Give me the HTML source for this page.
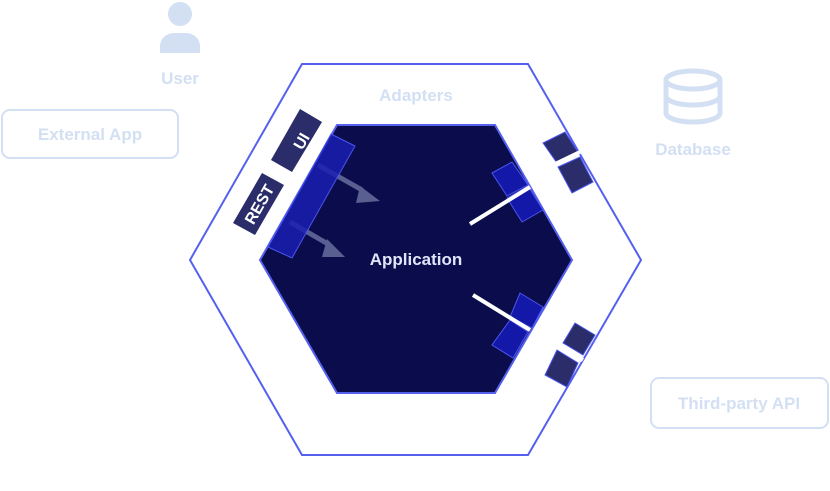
<!DOCTYPE html><html><head><style>body{margin:0;background:#fff;width:830px;height:486px;overflow:hidden}</style></head><body>
<svg width="830" height="486" viewBox="0 0 830 486" xmlns="http://www.w3.org/2000/svg" font-family="Liberation Sans, sans-serif" font-weight="bold">
<g fill="#d3e0f3">
<circle cx="180" cy="14" r="12"/>
<path d="M160 53 V46 a14 13 0 0 1 14 -13 h12 a14 13 0 0 1 14 13 V53 Z"/>
</g>
<g fill="none" stroke="#d3e0f3" stroke-width="5">
<ellipse cx="693" cy="80" rx="27" ry="9"/>
<path d="M666 80 V113 a27 9 0 0 0 54 0 V80"/>
<path d="M666 96 a27 9 0 0 0 54 0"/>
</g>
<text x="180" y="84" text-anchor="middle" font-size="17" fill="#d3e0f3">User</text>
<text x="693" y="155" text-anchor="middle" font-size="17" fill="#d3e0f3">Database</text>
<rect x="2" y="110" width="176" height="48" rx="8" fill="none" stroke="#d3e0f3" stroke-width="2"/>
<text x="90" y="140" text-anchor="middle" font-size="17" fill="#d3e0f3">External App</text>
<rect x="651" y="378" width="177" height="50" rx="8" fill="none" stroke="#d3e0f3" stroke-width="2"/>
<text x="739" y="409" text-anchor="middle" font-size="17" fill="#d3e0f3">Third-party API</text>
<polygon points="302,64 528,64 641,260 528,455 302,455 190,260" fill="#fff" stroke="#5560ee" stroke-width="2"/>
<text x="416" y="101" text-anchor="middle" font-size="17" fill="#d3e0f3">Adapters</text>
<polygon points="337,125 495,125 572,260 495,393 337,393 260,260" fill="#0a0c4b" stroke="#5560ee" stroke-width="2"/>
<text x="416" y="265" text-anchor="middle" font-size="17" fill="#e0e6fa">Application</text>
<g stroke="#5a5f92" stroke-width="5"><line x1="318" y1="165" x2="362" y2="190"/><line x1="290" y1="222" x2="328" y2="244"/></g>
<polygon points="360,186 380,201 356,203" fill="#5a5f92"/>
<polygon points="327,239 345,257 322,257" fill="#5a5f92"/>
<polygon points="331,134 355,146 292,258 268,247" fill="#1a1eb0" fill-opacity="0.85" stroke="#4a55ee"/>
<polygon points="300,109 322,122 292,172 271,160" fill="#2a2d6a"/>
<polygon points="262,173 284,185 255,235 233,223" fill="#2a2d6a"/>
<text transform="translate(301,141) rotate(-60)" text-anchor="middle" dy="6" font-size="16" fill="#fff">UI</text>
<text transform="translate(259,204) rotate(-60)" text-anchor="middle" dy="6" font-size="16" fill="#fff">REST</text>
<g fill="#2a2d6a" stroke="#4a55ee" stroke-width="1">
<polygon points="543,143 565,132 578,152 557,163"/>
<polygon points="558,167 580,157 593,182 572,193"/>
<polygon points="575,323 595,335 583,355 563,343"/>
<polygon points="557,350 578,363 567,387 545,375"/>
</g>
<g fill="#1418a8" stroke="#4a55ee" stroke-width="1">
<polygon points="492,173 512,162 528,185 507,196"/>
<polygon points="507,198 528,186 543,210 522,222"/>
<polygon points="520,293 543,307 532,328 510,317"/>
<polygon points="510,320 528,332 513,358 492,345"/>
</g>
<g stroke="#fff" stroke-width="4">
<line x1="555" y1="164" x2="580" y2="152"/>
<line x1="470" y1="224" x2="530" y2="187"/>
<line x1="473" y1="295" x2="530" y2="330"/>
<line x1="560" y1="347" x2="583" y2="360"/>
</g>
</svg></body></html>
